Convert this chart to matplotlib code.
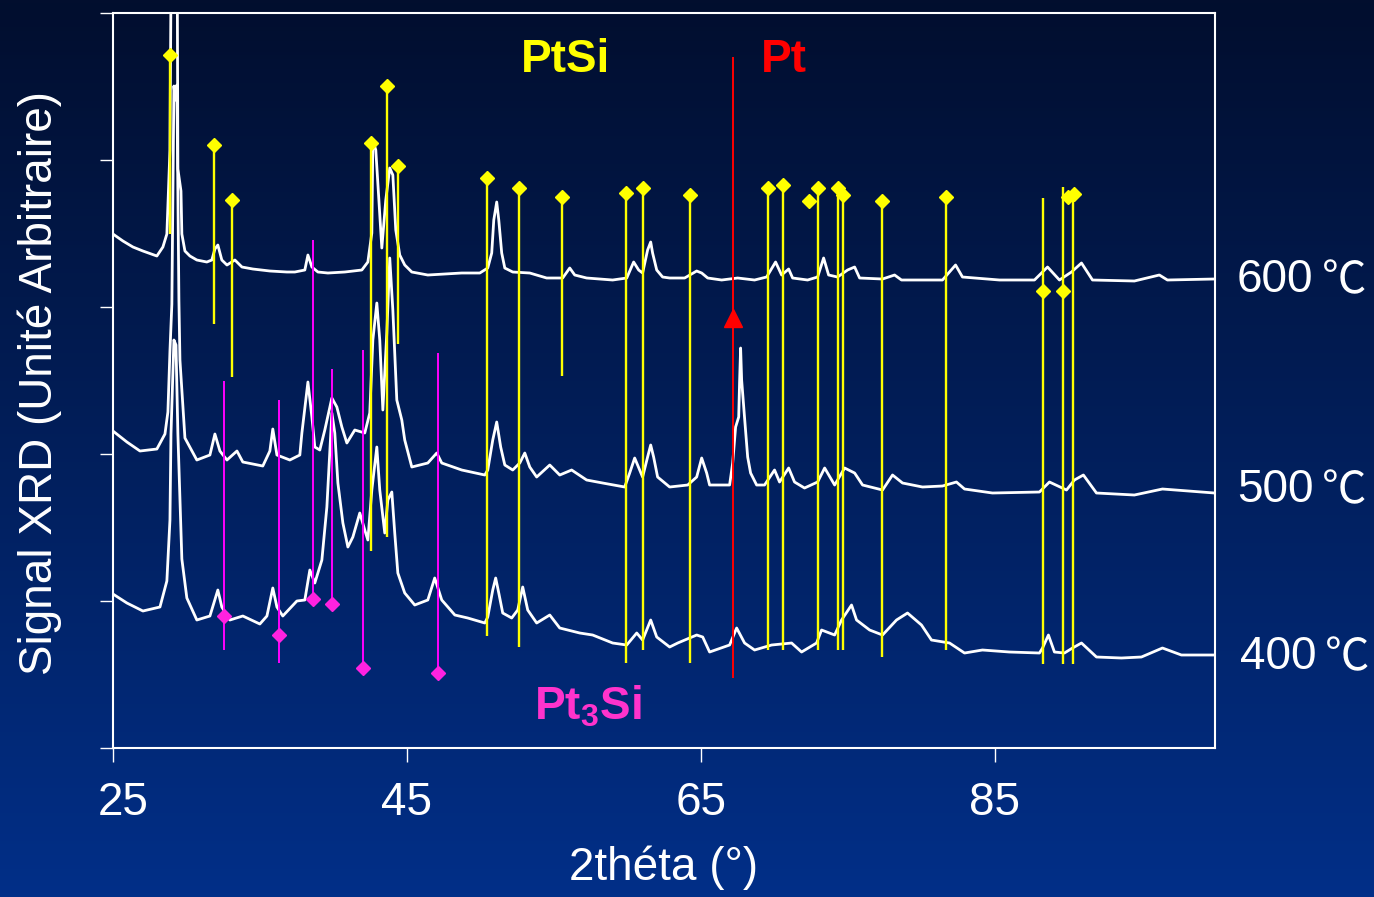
import numpy as np
import matplotlib
matplotlib.use("Agg")
import matplotlib.pyplot as plt
import matplotlib.transforms as mtransforms
from matplotlib.colors import LinearSegmentedColormap

plt.rcParams['font.family'] = ['Liberation Sans', 'DejaVu Sans']
plt.rcParams['mathtext.fontset'] = 'custom'
plt.rcParams['mathtext.rm'] = 'Liberation Sans'
plt.rcParams['mathtext.bf'] = 'Liberation Sans:bold'

# 2theta [deg] / signal [arb. units]
theta_600 = [25.00, 25.68, 26.36, 27.04, 27.99, 28.40, 28.67, 28.88, 29.01, 29.18,
             29.35, 29.42, 29.63, 29.69, 29.90, 30.24, 30.71, 31.39, 31.73, 31.94,
             32.14, 32.41, 32.76, 33.30, 33.78, 34.52, 35.68, 36.84, 37.38, 38.06,
             38.27, 38.54, 38.95, 39.63, 40.78, 41.94, 42.35, 42.62, 42.69, 42.89,
             43.10, 43.30, 43.57, 43.84, 44.05, 44.25, 44.52, 44.86, 45.34, 46.43,
             48.74, 49.97, 50.51, 50.78, 50.92, 51.12, 51.26, 51.46, 51.67, 52.21,
             53.37, 54.52, 55.61, 56.09, 56.43, 57.24, 59.01, 59.97, 60.44, 60.78,
             61.05, 61.39, 61.60, 61.73, 62.01, 62.41, 62.89, 63.91, 64.73, 65.07,
             65.48, 66.43, 67.52, 68.67, 69.49, 70.10, 70.51, 70.99, 71.26, 72.28,
             72.96, 73.37, 73.71, 74.32, 75.00, 75.48, 75.82, 77.38, 78.20, 78.67,
             81.46, 82.35, 82.82, 85.34, 87.72, 88.61, 89.42, 90.24, 90.92, 91.67,
             94.52, 96.22, 96.77, 99.97]
int_600 = [514, 507, 501, 497, 492, 501, 514, 598, 898, 948,
           898, 579, 557, 514, 497, 492, 488, 486, 488, 499,
           503, 488, 483, 488, 481, 479, 477, 476, 476, 478,
           493, 481, 476, 475, 476, 478, 486, 515, 608, 598,
           548, 500, 548, 580, 573, 518, 493, 483, 476, 473,
           475, 475, 480, 495, 528, 546, 528, 495, 480, 476,
           475, 470, 470, 480, 473, 470, 468, 470, 486, 478,
           475, 498, 506, 495, 478, 471, 470, 470, 477, 475,
           470, 468, 470, 468, 471, 486, 473, 479, 470, 468,
           471, 490, 473, 471, 478, 481, 470, 469, 473, 468,
           468, 483, 471, 468, 468, 481, 468, 476, 485, 468,
           467, 473, 468, 469]

theta_500 = [25.00, 25.95, 26.84, 27.99, 28.54, 28.74, 28.88, 29.01, 29.15, 29.25,
             29.35, 29.49, 29.56, 29.69, 29.90, 30.71, 31.60, 31.94, 32.28, 32.76,
             33.44, 33.84, 35.20, 35.68, 35.88, 36.16, 37.04, 37.72, 37.86, 38.27,
             38.54, 38.74, 39.08, 39.42, 39.90, 40.24, 40.58, 40.92, 41.46, 42.14,
             42.48, 42.69, 42.96, 43.16, 43.37, 43.64, 43.84, 44.05, 44.32, 44.66,
             44.86, 45.34, 46.43, 47.04, 47.38, 48.74, 50.31, 50.51, 50.85, 51.12,
             51.39, 51.67, 52.21, 52.69, 53.03, 53.37, 53.84, 54.73, 55.41, 56.22,
             57.24, 58.33, 59.83, 60.17, 60.51, 60.85, 61.05, 61.39, 61.60, 61.80,
             62.07, 62.89, 64.12, 64.73, 65.07, 65.41, 65.61, 66.97, 67.18, 67.38,
             67.59, 67.65, 67.72, 67.79, 67.99, 68.20, 68.40, 68.81, 69.35, 70.03,
             70.37, 70.99, 71.39, 72.07, 72.96, 73.44, 74.12, 74.80, 75.48, 76.02,
             77.38, 78.06, 78.74, 80.10, 81.46, 82.41, 82.96, 84.86, 88.06, 88.74,
             89.90, 90.44, 91.05, 91.94, 94.52, 96.43, 99.97]
int_500 = [317, 306, 297, 299, 314, 336, 397, 444, 662, 648,
           663, 448, 388, 358, 310, 288, 293, 314, 297, 288,
           297, 286, 282, 297, 319, 293, 288, 293, 315, 366,
           331, 301, 298, 318, 350, 341, 321, 305, 318, 315,
           335, 408, 445, 408, 338, 415, 490, 438, 348, 328,
           308, 281, 285, 295, 285, 278, 273, 278, 308, 326,
           301, 283, 278, 285, 295, 281, 271, 283, 273, 278,
           268, 265, 261, 275, 290, 278, 271, 291, 303, 291,
           271, 261, 263, 271, 290, 275, 263, 263, 285, 321,
           331, 366, 400, 368, 330, 291, 275, 263, 263, 278,
           266, 280, 266, 260, 266, 280, 263, 280, 275, 263,
           258, 273, 265, 261, 262, 266, 259, 255, 256, 266,
           258, 268, 273, 255, 253, 259, 255]

theta_400 = [25.00, 25.95, 27.04, 28.20, 28.67, 28.88, 28.95, 29.15, 29.29, 29.42,
             29.69, 30.03, 30.71, 31.60, 32.14, 32.41, 32.96, 33.84, 35.00, 35.48,
             35.88, 36.16, 36.56, 37.52, 38.06, 38.40, 38.74, 39.22, 39.56, 39.90,
             40.10, 40.31, 40.65, 40.99, 41.33, 41.80, 42.14, 42.35, 42.62, 42.96,
             43.16, 43.50, 43.71, 43.98, 44.18, 44.39, 44.86, 45.54, 46.43, 46.90,
             47.38, 48.27, 49.15, 50.31, 50.51, 50.85, 51.05, 51.26, 51.53, 52.14,
             52.55, 52.89, 53.23, 53.84, 54.73, 55.41, 56.77, 57.65, 59.01, 59.97,
             60.65, 61.05, 61.60, 62.01, 62.89, 63.44, 64.73, 65.14, 65.61, 66.97,
             67.45, 67.99, 68.67, 69.83, 71.19, 71.87, 72.89, 73.23, 74.12, 74.59,
             75.27, 75.61, 76.50, 77.38, 78.33, 79.08, 80.03, 80.71, 81.94, 82.96,
             84.18, 86.02, 88.06, 88.27, 88.67, 89.08, 89.76, 90.31, 90.92, 91.94,
             93.64, 95.00, 96.43, 97.72, 99.97]
int_400 = [154, 145, 137, 141, 167, 228, 314, 408, 403, 314,
           189, 150, 128, 132, 158, 141, 128, 132, 124, 132,
           160, 141, 132, 147, 148, 178, 165, 188, 241, 335,
           315, 265, 225, 201, 211, 235, 218, 208, 258, 301,
           258, 215, 248, 256, 215, 175, 155, 143, 148, 170,
           148, 133, 130, 125, 131, 158, 170, 155, 135, 130,
           138, 161, 138, 125, 133, 120, 115, 113, 105, 103,
           115, 108, 128, 111, 101, 105, 113, 111, 96, 103,
           120, 105, 98, 103, 105, 96, 105, 118, 113, 128,
           143, 128, 118, 113, 128, 135, 123, 108, 105, 95,
           98, 96, 95, 100, 113, 96, 95, 100, 105, 91,
           90, 91, 100, 93, 93]

# PtSi reference lines (yellow)
ptsi_theta = [28.88, 31.87, 33.10, 42.55, 43.64, 44.39, 50.44, 52.62, 55.54, 59.90, 61.05,
              64.25, 69.56, 70.58, 72.96, 74.32, 74.66, 77.31, 81.67, 88.27, 89.69, 90.31]
ptsi_top = [693, 603, 548, 605, 662, 582, 570, 560, 551, 555, 560,
            553, 560, 563, 560, 560, 553, 547, 551, 550, 561, 553]
ptsi_bottom = [514, 424, 371, 197, 211, 404, 112, 101, 372, 85, 98,
               85, 98, 98, 98, 98, 98, 91, 98, 84, 84, 84]
ptsi_mark_theta = [28.88, 31.87, 33.10, 42.55, 43.64, 44.39, 50.44, 52.62, 55.54, 59.90, 61.05, 64.25,
                   69.56, 70.58, 72.35, 72.96, 74.32, 74.66, 77.31, 81.67, 88.27, 89.69, 89.97, 90.44]
ptsi_mark_int = [693, 603, 548, 605, 662, 582, 570, 560, 551, 555, 560, 553,
                 560, 563, 547, 560, 560, 553, 547, 551, 457, 457, 551, 554]

# Pt3Si reference lines (magenta)
pt3si_theta = [32.55, 36.29, 38.61, 39.90, 42.01, 47.11]
pt3si_top = [367, 348, 508, 379, 398, 395]
pt3si_bottom = [98, 85, 149, 144, 80, 75]
pt3si_mark = [132, 113, 149, 144, 80, 75]

# Pt reference line (red)
pt_theta = 67.18
pt_top, pt_bottom, pt_mark = 691, 70, 430

temps = ['600', '500', '400']
temp_levels = [468, 258, 91]

fig = plt.figure(figsize=(13.74, 8.97), dpi=100)

# background gradient
bg = fig.add_axes([0, 0, 1, 1], zorder=-10)
grad = np.linspace(0, 1, 256).reshape(-1, 1)
cmap = LinearSegmentedColormap.from_list('bg', ['#020e2e', '#012f88'])
bg.imshow(grad, aspect='auto', cmap=cmap, extent=[0, 1, 0, 1], origin='upper')
bg.axis('off')

ax = fig.add_axes([0.0822, 0.1661, 0.8020, 0.8194])
ax.set_facecolor('none')

for th, it in [(theta_600, int_600), (theta_500, int_500), (theta_400, int_400)]:
    ax.plot(th, it, color='white', lw=2.0, zorder=2)

ax.vlines(ptsi_theta, ptsi_bottom, ptsi_top, color='#ffff00', lw=1.7, zorder=3)
ax.plot(ptsi_mark_theta, ptsi_mark_int, 'D', color='#ffff00', ms=7.5, ls='none', zorder=4)

ax.vlines(pt3si_theta, pt3si_bottom, pt3si_top, color='#ff00ff', lw=1.4, zorder=3)
ax.plot(pt3si_theta, pt3si_mark, 'D', color='#ff22e0', ms=7.5, ls='none', zorder=4)

ax.vlines([pt_theta], [pt_bottom], [pt_top], color='#ff0000', lw=1.4, zorder=3)
ax.plot([pt_theta], [pt_mark], '^', color='#ff0000', ms=13, zorder=4)

ax.text(55.82, 688, 'PtSi', color='#ffff00', fontsize=33, fontweight='bold',
        ha='center', va='center')
ax.text(70.65, 688, 'Pt', color='#ff0000', fontsize=33, fontweight='bold',
        ha='center', va='center')
ax.text(57.31, 41, r'$\mathbf{Pt_3Si}$', color='#ff33cc', fontsize=33,
        ha='center', va='center')

# temperature labels at the right of each curve
trans = mtransforms.blended_transform_factory(ax.transAxes, ax.transData)
for i, (lab, lev) in enumerate(zip(temps, temp_levels)):
    x0 = 1.0227 if i == 2 else 1.02
    ax.text(x0, lev, lab, transform=trans, color='white', fontsize=33,
            ha='left', va='center', clip_on=False)
    ax.text(x0 + 0.077, lev, '℃', transform=trans, color='white', fontsize=32,
            family=['Noto Sans CJK JP', 'DejaVu Sans'],
            ha='left', va='center', clip_on=False)

ax.set_xlim(25, 100)
ax.set_ylim(0, 735)
ax.set_xticks([25, 45, 65, 85])
ax.set_yticks(np.arange(0, 736, 147))
ax.tick_params(axis='x', colors='white', length=10, width=1, pad=14, labelsize=33)
ax.tick_params(axis='y', colors='white', length=9.5, width=1, labelleft=False)
for sp in ax.spines.values():
    sp.set_color('white')
    sp.set_linewidth(1.5)

# the first tick label sits a little to the right of its tick
first = ax.xaxis.get_major_ticks()[0].label1
first.set_transform(first.get_transform() +
                    mtransforms.ScaledTranslation(0.10, 0, fig.dpi_scale_trans))

ax.set_xlabel('2théta (°)', color='white', fontsize=33)
ax.xaxis.set_label_coords(0.5, -0.132)
ax.set_ylabel('Signal XRD (Unité Arbitraire)', color='white', fontsize=33)
ax.yaxis.set_label_coords(-0.066, 0.497)
ax.yaxis.label.set_verticalalignment('center')

fig.savefig('out.png', dpi=100)
